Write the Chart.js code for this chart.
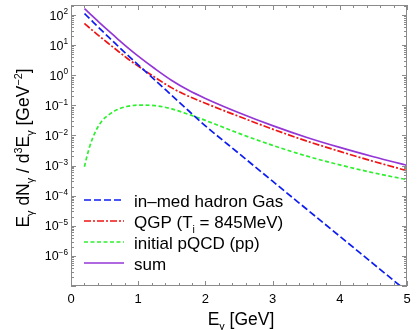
<!DOCTYPE html>
<html>
<head>
<meta charset="utf-8">
<script src="https://cdn.jsdelivr.net/npm/chart.js@4"></script>
<style>
  html, body { margin: 0; padding: 0; background: #fff; }
  canvas { display: block; }
</style>
</head>
<body>
<canvas id="canvas" width="418" height="330"></canvas>
<script>
// photon energy grid [GeV]
const energies = [0.2, 0.23, 0.27, 0.32, 0.38, 0.46, 0.56, 0.68, 0.83, 1.0,
                  1.25, 1.5, 1.75, 2.0, 2.5, 3.0, 3.5, 4.0, 4.5, 5.0];

// E dN / d3E [GeV^-2]
const hadronGas = [112, 96.4, 78.7, 61.1, 45.1, 30.1, 18.3, 10.2, 4.94, 2.2,
                   0.692, 0.214, 0.0661, 0.0209, 2.51e-3, 3.02e-4, 3.67e-5, 4.47e-6, 5.43e-7, 6.6e-8];
const qgp = [52.5, 45.8, 38.4, 30.8, 23.8, 16.9, 11.2, 6.89, 3.72, 2.0,
             0.851, 0.38, 0.2, 0.117, 0.0427, 0.0162, 6.61e-3, 2.95e-3, 1.38e-3, 6.76e-4];
const pqcd = [9.1e-4, 1.74e-3, 3.72e-3, 7.94e-3, 0.0158, 0.0302, 0.0479, 0.0708, 0.0912, 0.102,
              0.0977, 0.0759, 0.0501, 0.0316, 0.0117, 4.68e-3, 2.09e-3, 1.05e-3, 5.75e-4, 3.39e-4];
const sum = [163, 142, 117, 91.9, 68.9, 47.0, 29.6, 17.2, 8.75, 4.3,
             1.64, 0.67, 0.316, 0.17, 0.0569, 0.0212, 8.74e-3, 4.0e-3, 1.96e-3, 1.015e-3];

const seriesLabels = ['in\u2013med hadron Gas', 'QGP (T_{i} = 845MeV)', 'initial pQCD (pp)', 'sum'];
const xTicks = [0, 1, 2, 3, 4, 5];
const yExponents = [-6, -5, -4, -3, -2, -1, 0, 1, 2];

const FONT = '"Liberation Sans", Arial, Helvetica, sans-serif';
const FRAME = '#8a8a8a';

function pts(arr) {
    return energies.map((e, i) => ({ x: e, y: arr[i] }));
}

// split "a_{b}c^{d}" into normal / sub / sup pieces
function richParts(s) {
    const parts = [];
    const re = /([_^])\{([^}]*)\}/g;
    let last = 0, m;
    while ((m = re.exec(s))) {
        if (m.index > last) parts.push({ t: s.slice(last, m.index), k: '' });
        parts.push({ t: m[2], k: m[1] });
        last = re.lastIndex;
    }
    if (last < s.length) parts.push({ t: s.slice(last), k: '' });
    return parts;
}

function drawRich(ctx, s, x, y, size, align, small) {
    small = small || 0.62;
    const parts = richParts(s);
    let w = 0;
    parts.forEach(p => {
        p.size = p.k ? size * small : size;
        ctx.font = p.size + 'px ' + FONT;
        p.w = ctx.measureText(p.t).width;
        w += p.w;
    });
    let cx = x;
    if (align === 'center') cx = x - w / 2;
    if (align === 'right') cx = x - w;
    ctx.textAlign = 'left';
    ctx.textBaseline = 'alphabetic';
    parts.forEach(p => {
        ctx.font = p.size + 'px ' + FONT;
        let dy = 0;
        if (p.k === '_') dy = size * 0.3;
        if (p.k === '^') dy = -size * 0.42;
        ctx.fillText(p.t, cx, y + dy);
        cx += p.w;
    });
}

const framePlugin = {
    id: 'frame',
    beforeDraw(chart) {
        const c = chart.ctx;
        c.save();
        c.fillStyle = '#fff';
        c.fillRect(0, 0, chart.width, chart.height);
        c.restore();
    },
    afterDraw(chart) {
        const c = chart.ctx;
        const a = chart.chartArea;
        const xs = chart.scales.x, ys = chart.scales.y;
        c.save();
        c.strokeStyle = FRAME;
        c.lineWidth = 1;
        c.setLineDash([]);
        c.strokeRect(a.left + 0.5, a.top + 0.5, a.right - a.left - 1, a.bottom - a.top - 1);

        // x ticks, inward on bottom and top
        c.beginPath();
        for (let v = 0; v <= 5.001; v += 0.2) {
            const px = Math.round(xs.getPixelForValue(v)) + 0.5;
            const major = Math.abs(v - Math.round(v)) < 1e-6;
            const len = major ? 5 : 3;
            c.moveTo(px, a.bottom); c.lineTo(px, a.bottom - len);
            c.moveTo(px, a.top); c.lineTo(px, a.top + len);
        }
        // y ticks, inward on left and right
        for (let d = -7; d <= 2; d++) {
            for (let k = 1; k <= 9; k++) {
                const val = k * Math.pow(10, d);
                if (val < ys.min || val > ys.max) continue;
                const py = Math.round(ys.getPixelForValue(val)) + 0.5;
                const len = k === 1 ? 5 : 3;
                c.moveTo(a.left, py); c.lineTo(a.left + len, py);
                c.moveTo(a.right, py); c.lineTo(a.right - len, py);
            }
        }
        c.stroke();

        // tick labels
        c.fillStyle = '#000';
        xTicks.forEach(v => {
            drawRich(c, String(v), xs.getPixelForValue(v), a.bottom + 17, 13, 'center');
        });
        yExponents.forEach(e => {
            const lab = '10^{' + (e < 0 ? '\u2212' + (-e) : e) + '}';
            drawRich(c, lab, a.left - 3, ys.getPixelForValue(Math.pow(10, e)) + 4.5, 12.5, 'right', 0.66);
        });

        // axis titles
        drawRich(c, 'E_{\u03b3} [GeV]', 241, 325, 17.5, 'center');
        c.save();
        c.translate(29, 148);
        c.rotate(-Math.PI / 2);
        drawRich(c, 'E_{\u03b3} dN_{\u03b3} / d^{3}E_{\u03b3} [GeV^{\u22122}]', 0, 0, 17.5, 'center');
        c.restore();

        // legend inside the plot
        chart.data.datasets.forEach((ds, i) => {
            const y = 200 + i * 21;
            c.strokeStyle = ds.borderColor;
            c.lineWidth = ds.borderWidth;
            c.setLineDash(ds.borderDash || []);
            c.beginPath();
            c.moveTo(84, y); c.lineTo(124, y);
            c.stroke();
            c.fillStyle = '#000';
            drawRich(c, ds.label, 134, y + 6.5, 17, 'left');
        });
        c.restore();
    }
};

const config = {
    type: 'line',
    data: {
        datasets: [
            { label: seriesLabels[0], data: pts(hadronGas), borderColor: '#0c1cf2', borderWidth: 1.7, borderDash: [7, 3] },
            { label: seriesLabels[1], data: pts(qgp), borderColor: '#f01414', borderWidth: 1.7, borderDash: [7, 2, 2, 2] },
            { label: seriesLabels[2], data: pts(pqcd), borderColor: '#2ef02e', borderWidth: 1.7, borderDash: [4, 2.5] },
            { label: seriesLabels[3], data: pts(sum), borderColor: '#9436d6', borderWidth: 1.7 }
        ]
    },
    options: {
        responsive: false,
        animation: false,
        devicePixelRatio: 1,
        layout: { padding: { left: 71, right: 11, top: 5, bottom: 44 } },
        elements: {
            point: { radius: 0 },
            line: { cubicInterpolationMode: 'monotone', fill: false }
        },
        plugins: { legend: { display: false }, tooltip: { enabled: false } },
        scales: {
            x: { type: 'linear', min: 0, max: 5, display: false },
            y: { type: 'logarithmic', min: 1e-7, max: 215, display: false }
        }
    },
    plugins: [framePlugin]
};

new Chart(document.getElementById('canvas').getContext('2d'), config);
</script>
</body>
</html>
